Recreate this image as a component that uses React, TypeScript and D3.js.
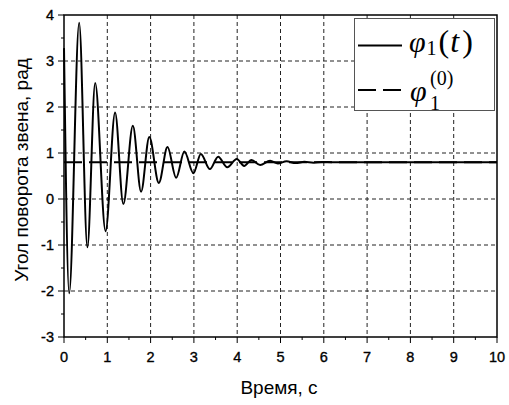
import React from "react";
import * as d3 from "d3";

// Data (extrema of the damped response)
const timeS: number[] = [
  0, 0.12, 0.35, 0.54, 0.72, 0.96, 1.18, 1.37, 1.59, 1.78, 1.97, 2.19, 2.39,
  2.59, 2.78, 2.99, 3.16, 3.37, 3.56, 3.77, 3.99, 4.16, 4.33, 4.53, 4.76,
  4.94, 5.14, 5.35, 5.55, 5.76, 5.96, 6.2, 10,
];
const angleRad: number[] = [
  3.28, -2.05, 3.83, -1.05, 2.52, -0.7, 1.88, -0.11, 1.59, 0.16, 1.35, 0.35,
  1.13, 0.46, 1.03, 0.56, 0.98, 0.65, 0.92, 0.69, 0.87, 0.72, 0.85, 0.74,
  0.83, 0.77, 0.82, 0.78, 0.81, 0.79, 0.805, 0.8, 0.8,
];
const steadyValue = 0.8;
const xTicks: number[] = [0, 1, 2, 3, 4, 5, 6, 7, 8, 9, 10];
const yTicks: number[] = [-3, -2, -1, 0, 1, 2, 3, 4];
const xMinor: number[] = [0.5, 1.5, 2.5, 3.5, 4.5, 5.5, 6.5, 7.5, 8.5, 9.5];
const yMinor: number[] = [-2.5, -1.5, -0.5, 0.5, 1.5, 2.5, 3.5];
const xLabel = "Время, с";
const yLabel = "Угол поворота звена, рад";

const W = 509;
const H = 405;
const L = 64, R = 497, T = 15, B = 337;

export default function App() {
  const x = d3.scaleLinear().domain([0, 10]).range([L, R]);
  const y = d3.scaleLinear().domain([-3, 4]).range([B, T]);
  const pts: [number, number][] = timeS.map((t, i) => [t, angleRad[i]]);
  const line = d3
    .line<[number, number]>()
    .x((d) => x(d[0]))
    .y((d) => y(d[1]))
    .curve(d3.curveMonotoneX);
  const tickFont = "'Liberation Sans', Arial, sans-serif";
  const serif = "'Liberation Serif', 'Times New Roman', serif";
  return (
    <svg
      width={W}
      height={H}
      style={{ position: "absolute", left: 0, top: 0, background: "#fff" }}
    >
      <rect x={0} y={0} width={W} height={H} fill="#fff" />
      {/* grid */}
      <g stroke="#222" strokeWidth={1} strokeDasharray="4,3" fill="none">
        {xTicks.slice(1, -1).map((t) => (
          <line key={"gx" + t} x1={x(t)} x2={x(t)} y1={T} y2={B} />
        ))}
        {yTicks.slice(1, -1).map((t) => (
          <line key={"gy" + t} x1={L} x2={R} y1={y(t)} y2={y(t)} />
        ))}
      </g>
      {/* steady-state line */}
      <line
        x1={x(0)}
        x2={x(10)}
        y1={y(steadyValue)}
        y2={y(steadyValue)}
        stroke="#000"
        strokeWidth={2}
        strokeDasharray="18,7"
      />
      {/* response */}
      <path d={line(pts) || ""} fill="none" stroke="#000" strokeWidth={2} />
      {/* frame */}
      <rect x={L} y={T} width={R - L} height={B - T} fill="none" stroke="#000" strokeWidth={1.5} />
      {/* ticks */}
      <g stroke="#000" strokeWidth={1}>
        {xTicks.map((t) => (
          <line key={"tx" + t} x1={x(t)} x2={x(t)} y1={B} y2={B + 6} />
        ))}
        {xMinor.map((t) => (
          <line key={"mx" + t} x1={x(t)} x2={x(t)} y1={B} y2={B + 3} />
        ))}
        {yTicks.map((t) => (
          <line key={"ty" + t} x1={L - 6} x2={L} y1={y(t)} y2={y(t)} />
        ))}
        {yMinor.map((t) => (
          <line key={"my" + t} x1={L - 3} x2={L} y1={y(t)} y2={y(t)} />
        ))}
      </g>
      <g fontFamily={tickFont} fontSize={14.5} fill="#000" stroke="#000" strokeWidth={0.35}>
        {xTicks.map((t) => (
          <text key={"lx" + t} x={x(t)} y={362} textAnchor="middle">
            {t}
          </text>
        ))}
        {yTicks.map((t) => (
          <text key={"ly" + t} x={54} y={y(t) + 5} textAnchor="end">
            {t}
          </text>
        ))}
      </g>
      <text x={279} y={394} textAnchor="middle" fontFamily={tickFont} fontSize={19}>
        {xLabel}
      </text>
      <text
        transform="translate(28,170) rotate(-90)"
        textAnchor="middle"
        fontFamily={tickFont}
        fontSize={19}
      >
        {yLabel}
      </text>
      {/* legend */}
      <rect x={354.5} y={18.5} width={140} height={92} fill="#fff" stroke="#555" strokeWidth={1} />
      <line x1={358} x2={402} y1={45.5} y2={45.5} stroke="#000" strokeWidth={2} />
      <line x1={358} x2={402} y1={90} y2={90} stroke="#000" strokeWidth={2} strokeDasharray="18,7" />
      <text x={409} y={52} fontFamily={serif} fontSize={30}>
        <tspan fontStyle="italic">φ</tspan>
        <tspan fontSize={20} dy={3} dx={1}>1</tspan>
        <tspan dy={-3} dx={2} fontSize={32}>(</tspan>
        <tspan fontStyle="italic" fontSize={32} dx={1}>t</tspan>
        <tspan dx={3} fontSize={32}>)</tspan>
      </text>
      <text x={410} y={101} fontFamily={serif} fontSize={30} fontStyle="italic">
        φ
      </text>
      <text x={430} y={110} fontFamily={serif} fontSize={20}>
        1
      </text>
      <text x={430} y={85} fontFamily={serif} fontSize={20}>
        (0)
      </text>
    </svg>
  );
}
